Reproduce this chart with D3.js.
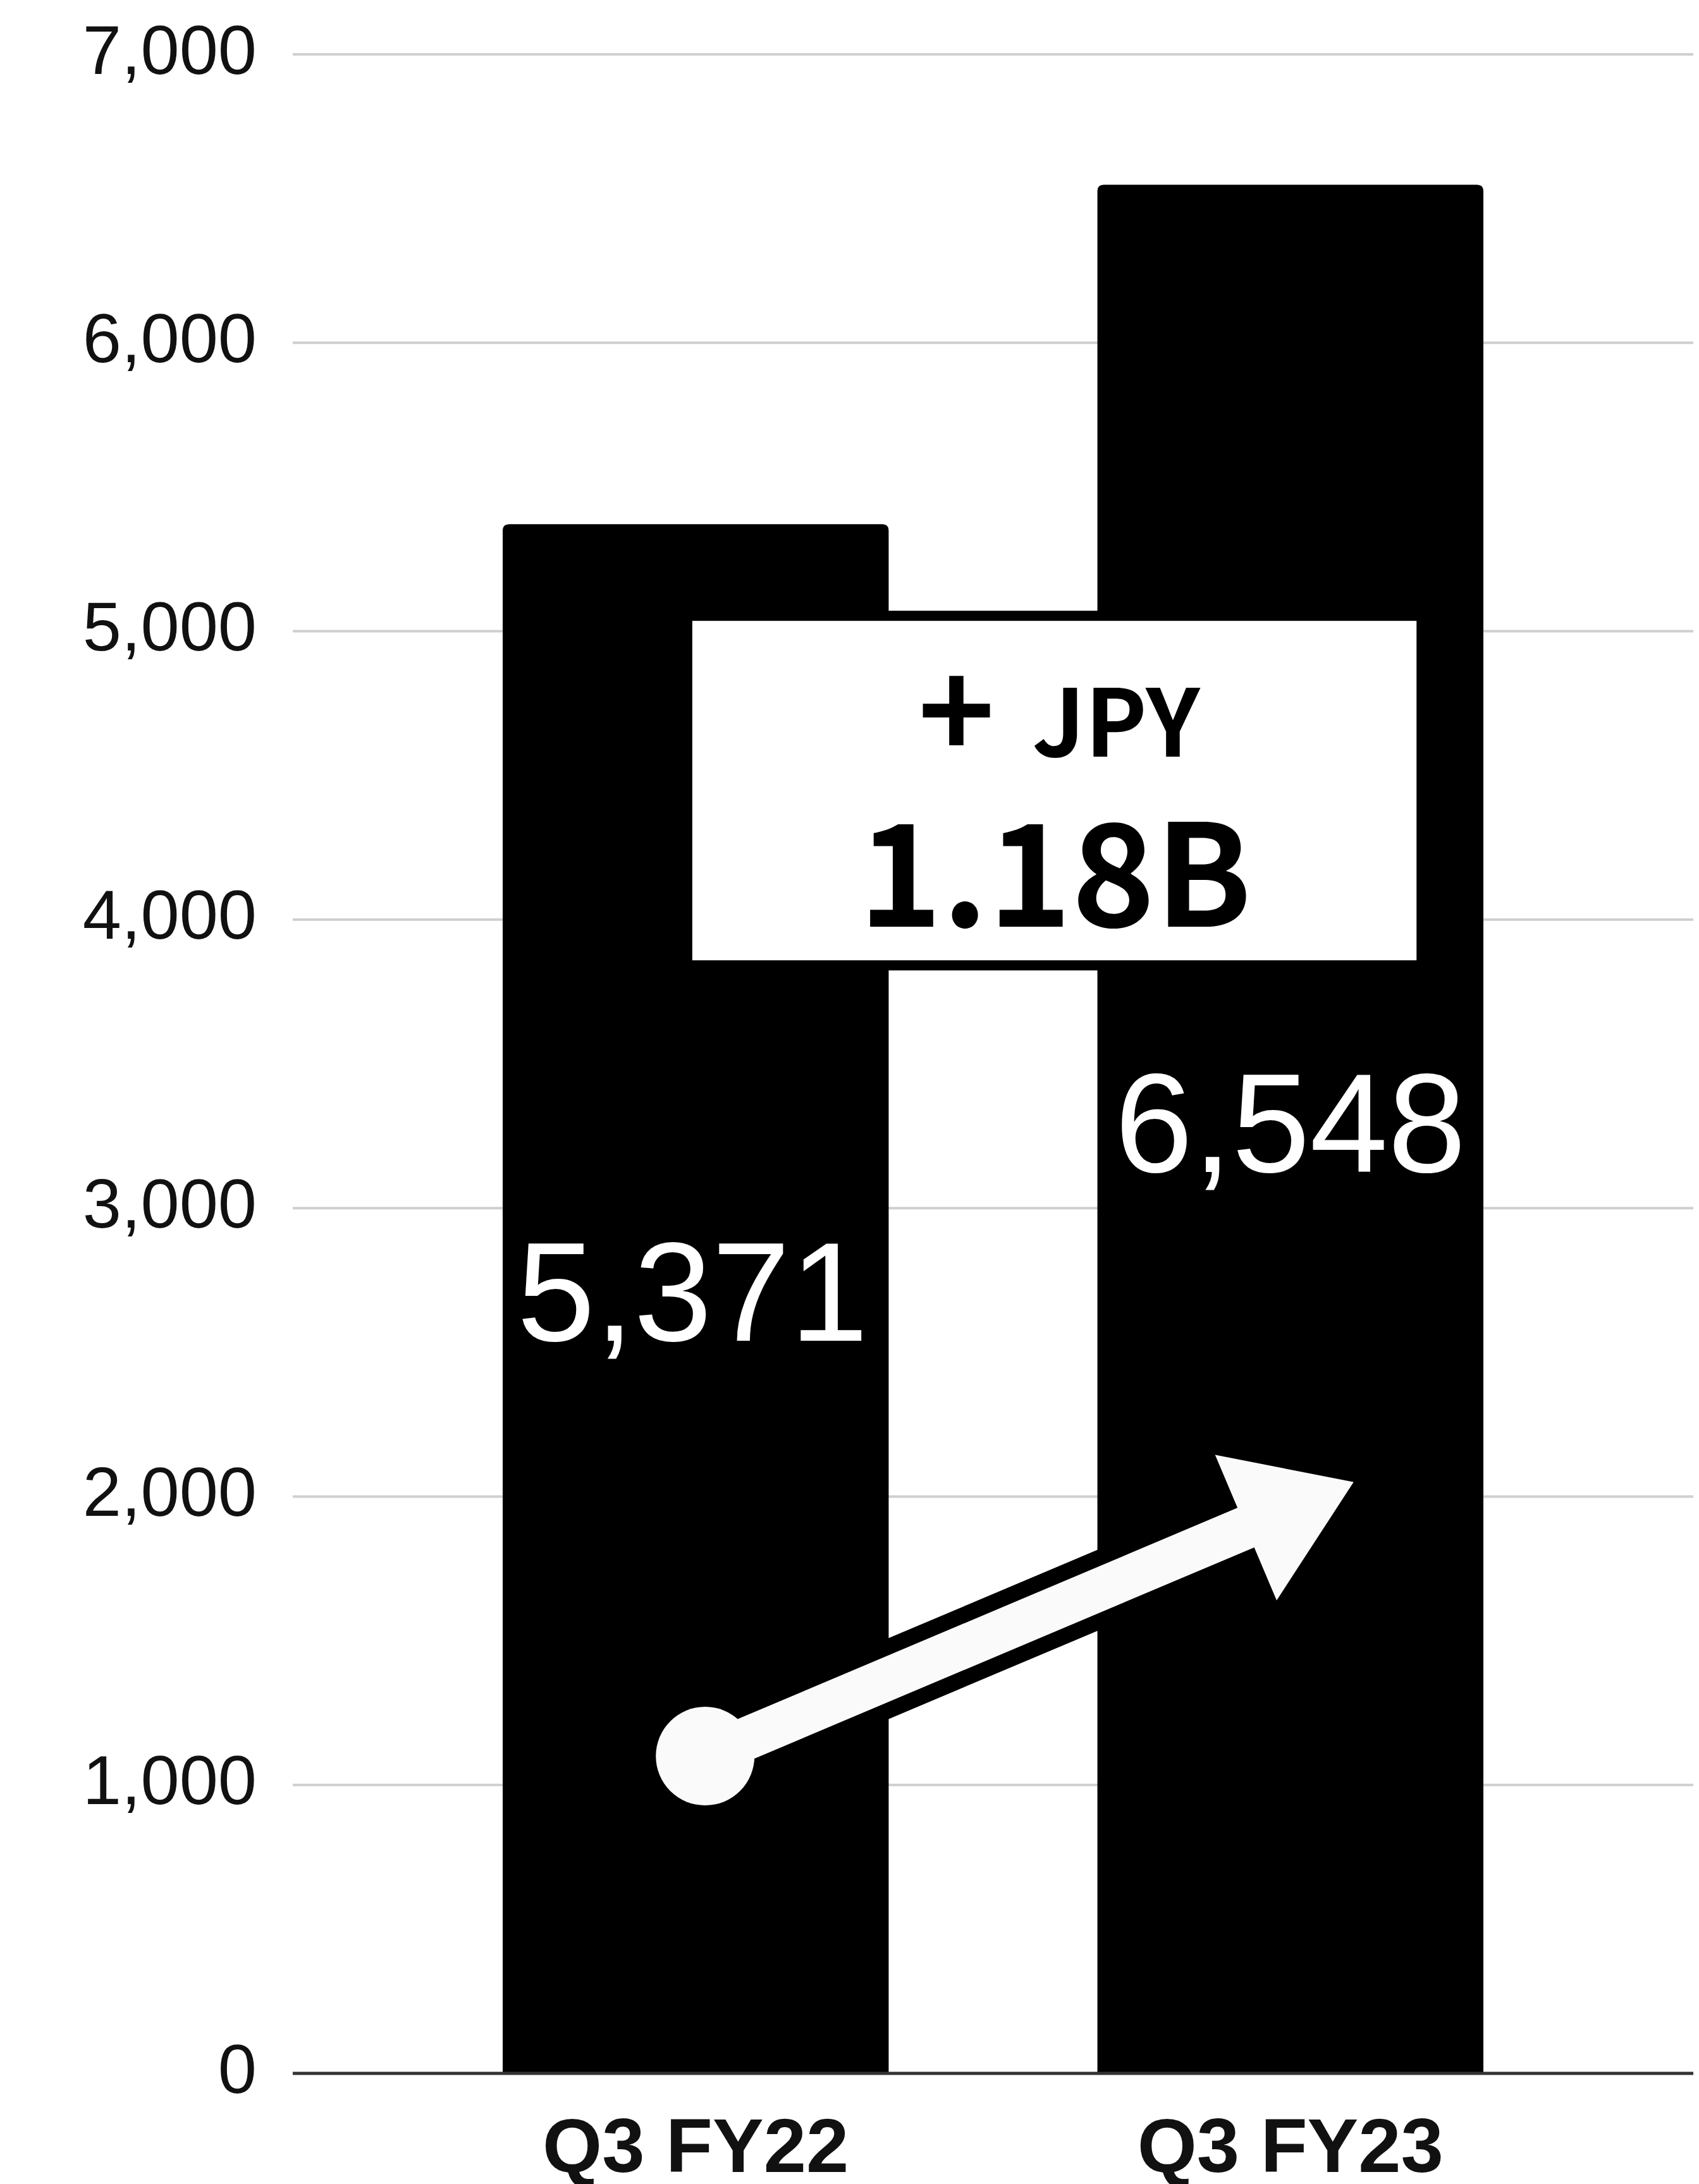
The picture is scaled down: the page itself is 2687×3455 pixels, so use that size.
<!DOCTYPE html>
<html>
<head>
<meta charset="utf-8">
<script src="https://cdn.jsdelivr.net/npm/d3@7"></script>
<style>
  html, body { margin: 0; padding: 0; background: #ffffff; }
  svg { display: block; }
</style>
</head>
<body>
<script>
// ---- data ----
const categories = ["Q3 FY22", "Q3 FY23"];
const values = [5371, 6548];
const valueLabels = ["5,371", "6,548"];
const labelLevels = [2540, 3125];          // value-axis level of each label's baseline
const yTicks = [0, 1000, 2000, 3000, 4000, 5000, 6000, 7000];
const yMax = 7000;
const deltaPrefix = "+";
const deltaUnit = "JPY";
const deltaText = "1.18B";
const arrowStartValue = 1100;
const arrowEndValue = 2050;

// ---- layout ----
const W = 2687, H = 3455;
const plot = { left: 463, right: 2678, top: 86, bottom: 3280 };

const svg = d3.select("body").append("svg")
  .attr("width", W).attr("height", H)
  .attr("viewBox", `0 0 ${W} ${H}`);

svg.append("rect").attr("width", W).attr("height", H).attr("fill", "#ffffff");

const x = d3.scaleBand().domain(categories)
  .range([plot.left, plot.right]).paddingInner(0.351).paddingOuter(0.353);
const y = d3.scaleLinear().domain([0, yMax]).range([plot.bottom, plot.top]);
const bw = x.bandwidth();

// y axis labels
const yAxis = d3.axisLeft(y).tickValues(yTicks).tickSize(0).tickFormat(d3.format(","));
const gAxis = svg.append("g").attr("transform", `translate(${plot.left},0)`).call(yAxis);
gAxis.select(".domain").remove();
gAxis.selectAll(".tick text")
  .attr("x", -57)
  .attr("dy", null)
  .attr("y", 30)
  .attr("text-anchor", "end")
  .style("font-family", "'Liberation Sans', Arial, sans-serif")
  .style("font-size", "110px")
  .attr("fill", "#111");

// gridlines
svg.append("g").selectAll("line")
  .data(yTicks.filter(d => d !== 0))
  .join("line")
  .attr("x1", plot.left).attr("x2", plot.right)
  .attr("y1", d => y(d)).attr("y2", d => y(d))
  .attr("stroke", "#cfcfcf").attr("stroke-width", 4);

// bars with rounded top corners
const r = 10;
svg.append("g").selectAll("path")
  .data(categories.map((c, i) => ({ c, v: values[i] })))
  .join("path")
  .attr("d", d => {
    const x0 = x(d.c), x1 = x0 + bw, y0 = y(d.v), yb = y(0);
    return `M${x0},${yb} L${x0},${y0 + r} Q${x0},${y0} ${x0 + r},${y0} L${x1 - r},${y0} Q${x1},${y0} ${x1},${y0 + r} L${x1},${yb} Z`;
  })
  .attr("fill", "#000");

// zero axis line
svg.append("line")
  .attr("x1", plot.left).attr("x2", plot.right)
  .attr("y1", y(0)).attr("y2", y(0))
  .attr("stroke", "#333").attr("stroke-width", 5);

// x labels
svg.append("g").selectAll("text")
  .data(categories)
  .join("text")
  .attr("x", d => x(d) + bw / 2)
  .attr("y", y(0) + 156)
  .attr("text-anchor", "middle")
  .style("font-family", "'Liberation Sans', Arial, sans-serif")
  .style("font-weight", "bold")
  .style("font-size", "121px")
  .attr("fill", "#111")
  .text(d => d);

// value labels
svg.append("g").selectAll("text")
  .data(categories.map((c, i) => ({ c, t: valueLabels[i], l: labelLevels[i] })))
  .join("text")
  .attr("x", (d, i) => x(d.c) + bw / 2 - (i === 0 ? 5 : 0))
  .attr("y", d => y(d.l))
  .attr("text-anchor", "middle")
  .style("font-family", "'Liberation Sans', Arial, sans-serif")
  .style("font-size", "222px")
  .attr("fill", "#fff")
  .text(d => d.t);

// ---- delta box ----
const bx0 = x(categories[0]) + bw * 0.465;
const bx1 = x(categories[1]) + bw * 0.853;
const byTop = y(5071), byBot = y(3824);
const border = 16;
svg.append("rect")
  .attr("x", bx0).attr("y", byTop)
  .attr("width", bx1 - bx0).attr("height", byBot - byTop)
  .attr("fill", "#000");
svg.append("rect")
  .attr("x", bx0 + border).attr("y", byTop + border)
  .attr("width", bx1 - bx0 - 2 * border).attr("height", byBot - byTop - 2 * border)
  .attr("fill", "#fff");
const bcx = (bx0 + bx1) / 2;
const cjk = "'Noto Sans CJK JP', 'Noto Sans', sans-serif";
svg.append("text")
  .attr("x", bcx - 155).attr("y", byTop + 236)
  .attr("text-anchor", "middle")
  .style("font-family", cjk).style("font-weight", "bold").style("font-size", "207px")
  .attr("fill", "#000").text(deltaPrefix);
svg.append("text")
  .attr("x", bcx - 35).attr("y", byTop + 231)
  .attr("text-anchor", "start")
  .style("font-family", cjk).style("font-weight", "bold").style("font-size", "147px")
  .attr("fill", "#000").text(deltaUnit);
svg.append("text")
  .attr("x", bcx + 1).attr("y", byTop + 500)
  .attr("text-anchor", "middle")
  .style("font-family", cjk).style("font-weight", "bold").style("font-size", "224px")
  .attr("fill", "#000").text(deltaText);

// ---- arrow ----
const sx = x(categories[0]) + bw / 2 + 15, sy = y(arrowStartValue);
const tx = x(categories[1]) + bw / 2 + 100, ty = y(arrowEndValue);
const dx = tx - sx, dy = ty - sy, len = Math.hypot(dx, dy);
const ux = dx / len, uy = dy / len, nx = -uy, ny = ux;
const headLen = 185, headHalf = 125, shaftHalf = 34;
const bxm = tx - ux * headLen, bym = ty - uy * headLen;
const pts = [
  [sx + nx * shaftHalf, sy + ny * shaftHalf],
  [bxm + nx * shaftHalf, bym + ny * shaftHalf],
  [bxm + nx * headHalf, bym + ny * headHalf],
  [tx, ty],
  [bxm - nx * headHalf, bym - ny * headHalf],
  [bxm - nx * shaftHalf, bym - ny * shaftHalf],
  [sx - nx * shaftHalf, sy - ny * shaftHalf]
];
const arrowPath = "M" + pts.map(p => p.join(",")).join("L") + "Z";
const ag = svg.append("g");
ag.append("path").attr("d", arrowPath).attr("fill", "#000")
  .attr("stroke", "#000").attr("stroke-width", 50).attr("stroke-linejoin", "miter");
ag.append("circle").attr("cx", sx).attr("cy", sy).attr("r", 78 + 25).attr("fill", "#000");
ag.append("path").attr("d", arrowPath).attr("fill", "#fafafa");
ag.append("circle").attr("cx", sx).attr("cy", sy).attr("r", 78).attr("fill", "#fafafa");
</script>
</body>
</html>
